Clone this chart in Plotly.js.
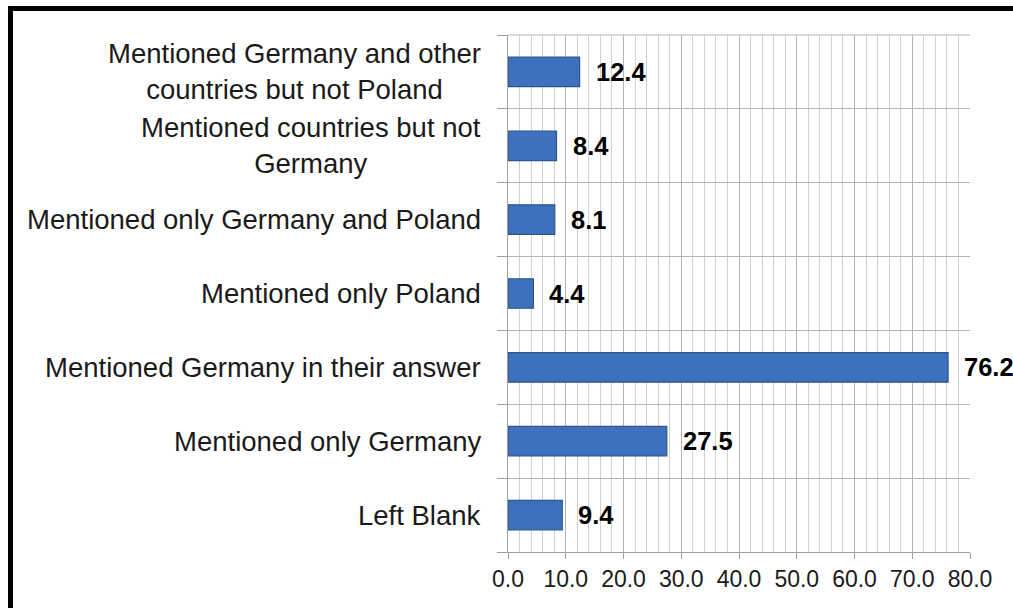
<!DOCTYPE html>
<html>
<head>
<meta charset="utf-8">
<script src="https://cdn.plot.ly/plotly-3.0.1.min.js"></script>
<style>
  html, body { margin: 0; padding: 0; background: #fff; }
  #wrap { position: relative; width: 1013px; height: 608px; overflow: hidden; }
  #chart { position: absolute; left: 0; top: 0; width: 1013px; height: 608px; }
  #frame { position: absolute; left: 8px; top: 6px; width: 1100px; height: 700px; border: 5px solid #000; box-sizing: border-box; pointer-events: none; }
</style>
</head>
<body>
<div id="wrap">
  <div id="chart"></div>
  <div id="frame"></div>
</div>
<script>
// Categories listed bottom to top
const categories = [
  "Left Blank",
  "Mentioned only Germany",
  "Mentioned Germany in their answer",
  "Mentioned only Poland",
  "Mentioned only Germany and Poland",
  "Mentioned countries but not<br>Germany",
  "Mentioned Germany and other<br>countries but not Poland"
];
const values = [9.4, 27.5, 76.2, 4.4, 8.1, 8.4, 12.4];
const valueLabels = ["9.4", "27.5", "76.2", "4.4", "8.1", "8.4", "12.4"];
const xTickVals = [0, 10, 20, 30, 40, 50, 60, 70, 80];
const xTickText = ["0.0", "10.0", "20.0", "30.0", "40.0", "50.0", "60.0", "70.0", "80.0"];

const FONT = "Liberation Sans, Arial, sans-serif";

const trace = {
  type: "bar",
  orientation: "h",
  y: categories,
  x: values,
  marker: { color: "#3d71bd", line: { color: "#2b568f", width: 1.2 } },
  hoverinfo: "skip"
};

const annotations = [];
categories.forEach((c, i) => {
  annotations.push({
    x: 0, xref: "paper", y: c, yref: "y",
    xanchor: "right", yanchor: "middle", xshift: -25,
    text: c, showarrow: false, align: "center",
    font: { family: FONT, size: 27.5, color: "#1a1a1a" }
  });
  annotations.push({
    x: values[i], xref: "x", y: c, yref: "y",
    xanchor: "left", yanchor: "middle", xshift: 14,
    text: "<b>" + valueLabels[i] + "</b>", showarrow: false,
    font: { family: FONT, size: 25.5, color: "#000" }
  });
});

const layout = {
  width: 1013, height: 608,
  margin: { l: 508, r: 43, t: 35, b: 56, pad: 0 },
  paper_bgcolor: "rgba(0,0,0,0)",
  plot_bgcolor: "#fff",
  showlegend: false,
  bargap: 0.6,
  xaxis: {
    range: [0, 80],
    tickvals: xTickVals,
    ticktext: xTickText,
    ticks: "outside", ticklen: 6, tickcolor: "#a0a0a0",
    showgrid: true, gridcolor: "#b4b4b4", gridwidth: 1,
    minor: { dtick: 2, showgrid: true, gridcolor: "#d0d0d0", gridwidth: 1 },
    showline: true, linecolor: "#a0a0a0", linewidth: 1,
    zeroline: false,
    tickfont: { family: FONT, size: 23, color: "#1a1a1a" },
    fixedrange: true
  },
  yaxis: {
    type: "category",
    tickson: "boundaries",
    showticklabels: false,
    ticks: "outside", ticklen: 10, tickcolor: "#a0a0a0",
    showgrid: true, gridcolor: "#b4b4b4", gridwidth: 1,
    showline: true, linecolor: "#a0a0a0", linewidth: 1,
    range: [-0.5, 6.5],
    fixedrange: true
  },
  shapes: [{
    type: "line", xref: "paper", yref: "paper", x0: 0, x1: 1, y0: 1, y1: 1,
    line: { color: "#b4b4b4", width: 1 }
  }],
  annotations: annotations
};

Plotly.newPlot("chart", [trace], layout, { displayModeBar: false, staticPlot: true });
</script>
</body>
</html>
